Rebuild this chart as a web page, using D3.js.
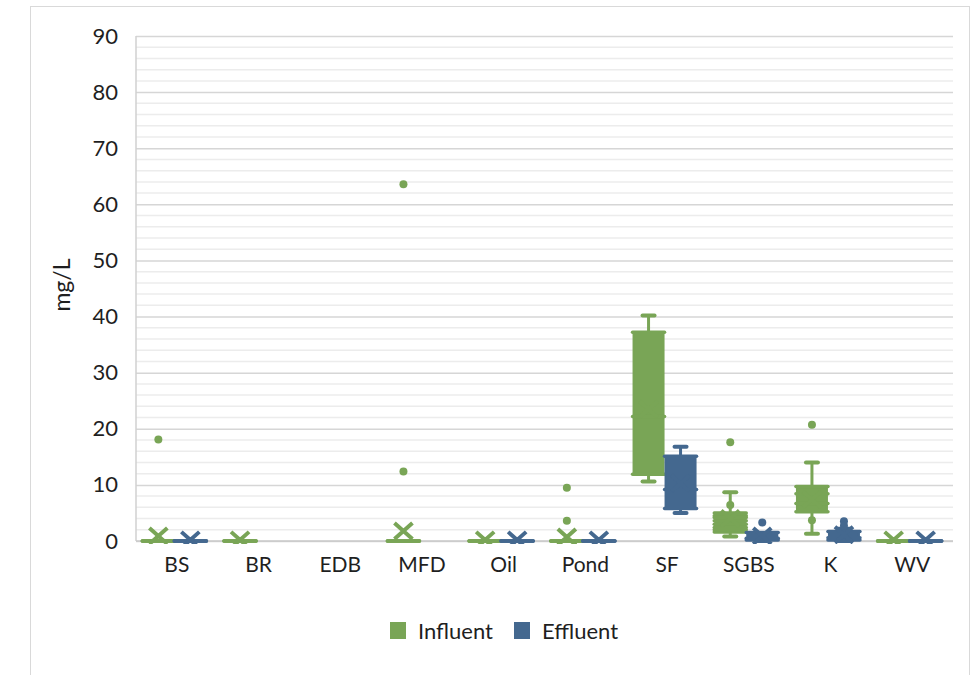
<!DOCTYPE html>
<html>
<head>
<meta charset="utf-8">
<script src="https://cdn.jsdelivr.net/npm/d3@7"></script>
<style>
  body { margin: 0; background: #fff; }
  text { font-family: Lato, 'Open Sans', sans-serif; fill: #1f1f1f; }
</style>
</head>
<body>
<svg id="chart" width="980" height="675"></svg>
<script>
var categories = ['BS', 'BR', 'EDB', 'MFD', 'Oil', 'Pond', 'SF', 'SGBS', 'K', 'WV'];
var yTicks = [0, 10, 20, 30, 40, 50, 60, 70, 80, 90];

// influent (null = no data for that category)
var influentMin    = [0, 0, null, 0, 0, 0, 10.6, 0.8, 1.3, 0];
var influentQ1     = [0, 0, null, 0, 0, 0, 11.9, 1.6, 5.2, 0];
var influentMedian = [0, 0, null, 0, 0, 0, 22.2, 3.6, 6.7, 0];
var influentQ3     = [0, 0, null, 0, 0, 0, 37.2, 5.0, 9.7, 0];
var influentMax    = [0, 0, null, 0, 0, 0, 40.2, 8.7, 14.0, 0];
var influentMean   = [0.9, 0.2, null, 1.8, 0.2, 0.7, 23.5, 4.0, 7.4, 0.2];
var influentInner  = [[], [], [], [], [], [], [], [6.4, 4.5, 4.2, 3.0, 2.4, 2.0], [8.4, 3.7], []];
var influentOut    = [[18.1], [], [], [63.6, 12.4], [], [9.5, 3.6], [], [17.6], [20.7], []];

// effluent
var effluentMin    = [0, null, null, null, 0, 0, 5.0, 0, 0, 0];
var effluentQ1     = [0, null, null, null, 0, 0, 5.8, 0.2, 0.2, 0];
var effluentMedian = [0, null, null, null, 0, 0, 9.2, 0.5, 0.6, 0];
var effluentQ3     = [0, null, null, null, 0, 0, 15.1, 1.5, 1.7, 0];
var effluentMax    = [0, null, null, null, 0, 0, 16.8, 1.5, 2.2, 0];
var effluentMean   = [0.2, null, null, null, 0.2, 0.2, 10.3, 0.9, 1.1, 0.2];
var effluentInner  = [[], [], [], [], [], [], [], [], [], []];
var effluentOut    = [[], [], [], [], [], [], [], [3.3], [3.5, 2.7], []];

var green = '#79a556', blue = '#44688f';

var series = [
  { name: 'Influent', color: green, dx: -18.5, min: influentMin, q1: influentQ1, med: influentMedian,
    q3: influentQ3, max: influentMax, mean: influentMean, inner: influentInner, out: influentOut },
  { name: 'Effluent', color: blue, dx: 13.5, min: effluentMin, q1: effluentQ1, med: effluentMedian,
    q3: effluentQ3, max: effluentMax, mean: effluentMean, inner: effluentInner, out: effluentOut }
];

var margin = { left: 136, right: 953, top: 36, bottom: 541 };
var boxW = 30;

var svg = d3.select('#chart');

// outer chart border
svg.append('rect')
   .attr('x', 30.5).attr('y', 6.5)
   .attr('width', 939).attr('height', 700)
   .attr('fill', 'none')
   .attr('stroke', '#d9d9d9');

var x = d3.scaleBand().domain(categories).range([margin.left, margin.right]);
var y = d3.scaleLinear().domain([0, 90]).range([margin.bottom, margin.top]);

// minor gridlines every 2
var minor = d3.range(2, 90, 2).filter(function(d) { return d % 10 !== 0 });
svg.append('g').selectAll('line')
   .data(minor).enter().append('line')
   .attr('x1', margin.left).attr('x2', margin.right)
   .attr('y1', function(d) { return y(d) }).attr('y2', function(d) { return y(d) })
   .attr('stroke', '#ececec').attr('stroke-width', 1.5);

// major gridlines + y axis labels
var yAxis = d3.axisLeft(y).tickValues(yTicks).tickSize(-(margin.right - margin.left)).tickPadding(18);
var yg = svg.append('g').attr('transform', 'translate(' + margin.left + ',0)').call(yAxis);
yg.select('.domain').remove();
yg.selectAll('.tick line').attr('stroke', '#d6d6d6').attr('stroke-width', 1.5);
yg.selectAll('.tick text').style('font-size', '22px').attr('fill', '#1f1f1f');

// axis lines
svg.append('line')
   .attr('x1', margin.left).attr('x2', margin.left)
   .attr('y1', margin.top).attr('y2', margin.bottom)
   .attr('stroke', '#d0d0d0').attr('stroke-width', 1.5);
svg.append('line')
   .attr('x1', margin.left).attr('x2', margin.right)
   .attr('y1', margin.bottom).attr('y2', margin.bottom)
   .attr('stroke', '#c8c8c8').attr('stroke-width', 1.5);

// x axis labels
var xAxis = d3.axisBottom(x).tickSize(0).tickPadding(16);
var xg = svg.append('g').attr('transform', 'translate(0,' + margin.bottom + ')').call(xAxis);
xg.select('.domain').remove();
xg.selectAll('.tick text').style('font-size', '21px').attr('fill', '#1f1f1f');

// y title
svg.append('text')
   .attr('transform', 'translate(70,285) rotate(-90)')
   .attr('text-anchor', 'middle')
   .style('font-size', '23px')
   .text('mg/L');

svg.append('clipPath').attr('id', 'plotclip')
   .append('rect')
   .attr('x', margin.left).attr('y', margin.top)
   .attr('width', margin.right - margin.left).attr('height', margin.bottom - margin.top + 3);

var plot = svg.append('g').attr('clip-path', 'url(#plotclip)');

series.forEach(function(s) {
  var g = plot.append('g');
  var idx = d3.range(categories.length).filter(function(i) { return s.q1[i] !== null });
  function cx(i) { return x(categories[i]) + x.bandwidth() / 2 + s.dx }

  // whiskers
  idx.forEach(function(i) {
    var c = cx(i);
    if (s.max[i] > s.q3[i]) {
      g.append('line').attr('x1', c).attr('x2', c)
       .attr('y1', y(s.q3[i])).attr('y2', y(s.max[i]))
       .attr('stroke', s.color).attr('stroke-width', 3);
      g.append('line').attr('x1', c - 6).attr('x2', c + 6)
       .attr('y1', y(s.max[i])).attr('y2', y(s.max[i]))
       .attr('stroke', s.color).attr('stroke-width', 4).attr('stroke-linecap', 'round');
    }
    if (s.min[i] < s.q1[i]) {
      g.append('line').attr('x1', c).attr('x2', c)
       .attr('y1', y(s.q1[i])).attr('y2', y(s.min[i]))
       .attr('stroke', s.color).attr('stroke-width', 3);
      g.append('line').attr('x1', c - 6).attr('x2', c + 6)
       .attr('y1', y(s.min[i])).attr('y2', y(s.min[i]))
       .attr('stroke', s.color).attr('stroke-width', 4).attr('stroke-linecap', 'round');
    }
  });

  // boxes
  g.selectAll('rect.box')
   .data(idx).enter().append('rect')
   .attr('class', 'box')
   .attr('x', function(i) { return cx(i) - boxW / 2 })
   .attr('y', function(i) { return y(s.q3[i]) })
   .attr('width', boxW)
   .attr('height', function(i) { return y(s.q1[i]) - y(s.q3[i]) })
   .attr('fill', s.color)
   .attr('stroke', s.color).attr('stroke-width', 2).attr('stroke-linejoin', 'round');

  // quartile / median lines and inner points inside the box
  idx.forEach(function(i) {
    var c = cx(i);
    var levels = [s.q1[i], s.med[i], s.q3[i]];
    s.inner[i].forEach(function(v) { if (v >= s.q1[i] && v <= s.q3[i]) levels.push(v) });
    levels.forEach(function(v) {
      g.append('line').attr('x1', c - boxW / 2 - 1).attr('x2', c + boxW / 2 + 1)
       .attr('y1', y(v)).attr('y2', y(v))
       .attr('stroke', s.color).attr('stroke-width', 3.5).attr('stroke-linecap', 'round');
    });
    s.inner[i].forEach(function(v) {
      if (v < s.q1[i] || v > s.q3[i]) {
        g.append('circle').attr('cx', c).attr('cy', y(v)).attr('r', 4).attr('fill', s.color);
      }
    });
  });

  // mean markers (X)
  idx.forEach(function(i) {
    var c = cx(i), m = y(s.mean[i]);
    g.append('path')
     .attr('d', 'M' + (c - 9) + ',' + (m - 8) + 'L' + (c + 9) + ',' + (m + 8) +
                'M' + (c + 9) + ',' + (m - 8) + 'L' + (c - 9) + ',' + (m + 8))
     .attr('stroke', s.color).attr('stroke-width', 4).attr('fill', 'none');
  });

  // outliers
  idx.forEach(function(i) {
    g.selectAll(null).data(s.out[i]).enter().append('circle')
     .attr('cx', cx(i)).attr('cy', function(v) { return y(v) })
     .attr('r', 4).attr('fill', s.color);
  });
});

// legend
var legend = svg.append('g').attr('transform', 'translate(390,622)');
var lx = [0, 124];
series.forEach(function(s, k) {
  legend.append('rect').attr('x', lx[k]).attr('y', 0).attr('width', 16).attr('height', 17).attr('fill', s.color);
  legend.append('text').attr('x', lx[k] + 28).attr('y', 9).attr('dy', '0.35em')
        .style('font-size', '22px').text(s.name);
});
</script>
</body>
</html>
